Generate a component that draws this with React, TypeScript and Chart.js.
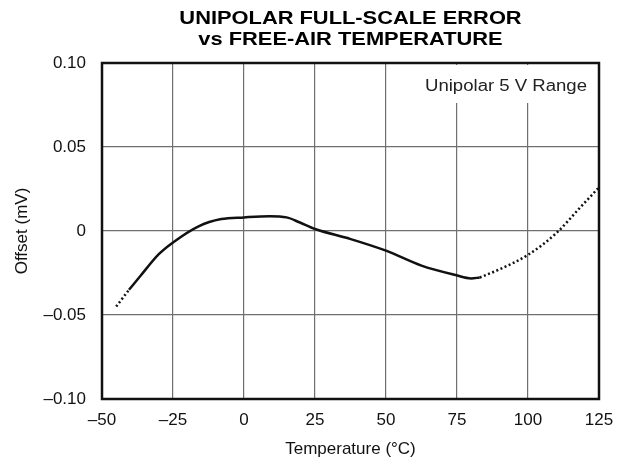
import React, { useEffect, useRef } from "react";
import { Chart, registerables } from "chart.js";

Chart.register(...registerables);

const titleLines = ["UNIPOLAR FULL-SCALE ERROR", "vs FREE-AIR TEMPERATURE"];
const xTitle = "Temperature (°C)";
const yTitle = "Offset (mV)";
const annotationText = "Unipolar 5 V Range";

const xTickValues = [-50, -25, 0, 25, 50, 75, 100, 125];
const xTickLabels = ["–50", "–25", "0", "25", "50", "75", "100", "125"];
const yTickValues = [-0.1, -0.05, 0, 0.05, 0.1];
const yTickLabels = ["–0.10", "–0.05", "0", "0.05", "0.10"];

const solidTemps = [-40.5, -36.5, -30, -25, -16, -8, 0, 9, 15, 19.5, 25, 37, 50, 62.5, 74.5, 80, 83];
const solidOffsets = [-0.035, -0.0268, -0.0138, -0.0068, 0.0028, 0.0071, 0.0081, 0.0088, 0.0081, 0.0052, 0.0012, -0.0045, -0.0117, -0.0206, -0.0262, -0.0282, -0.0277];

const dotLeftTemps = [-45, -40.5];
const dotLeftOffsets = [-0.045, -0.035];

const dotRightTemps = [83, 90, 100, 110, 118, 125];
const dotRightOffsets = [-0.0277, -0.0228, -0.0142, -0.0012, 0.0133, 0.026];

const FONT = "'Liberation Sans', Arial, Helvetica, sans-serif";

function pts(xs: number[], ys: number[]) {
  return xs.map((x, i) => ({ x, y: ys[i] }));
}

function labelFor(values: number[], labels: string[], v: number) {
  const i = values.findIndex((t) => Math.abs(t - v) < 1e-9);
  return i >= 0 ? labels[i] : "";
}

export default function App() {
  const ref = useRef<HTMLCanvasElement | null>(null);
  useEffect(() => {
    if (!ref.current) return;
    const overlay = {
      id: "overlay",
      afterDraw(chart: any) {
        const ctx = chart.ctx;
        const a = chart.chartArea;
        ctx.save();
        // annotation box
        ctx.fillStyle = "#fff";
        ctx.fillRect(a.right - 181, a.top + 2, 175, 38);
        ctx.font = `16px ${FONT}`;
        const sx = 1.16;
        const w = ctx.measureText(annotationText).width * sx;
        ctx.save();
        ctx.translate(a.right - 12 - w, a.top + 24);
        ctx.scale(sx, 1);
        ctx.fillStyle = "#222";
        ctx.textBaseline = "middle";
        ctx.textAlign = "left";
        ctx.fillText(annotationText, 0, 0);
        ctx.restore();
        // frame
        ctx.strokeStyle = "#111";
        ctx.lineWidth = 2.5;
        ctx.strokeRect(a.left, a.top, a.right - a.left, a.bottom - a.top);
        // title
        ctx.fillStyle = "#000";
        ctx.font = `bold 19px ${FONT}`;
        ctx.textAlign = "center";
        ctx.textBaseline = "middle";
        const cx = (a.left + a.right) / 2;
        [19, 40].forEach((y, i) => {
          ctx.save();
          ctx.translate(cx, y);
          ctx.scale(1.15, 1);
          ctx.fillText(titleLines[i], 0, 0);
          ctx.restore();
        });
        ctx.restore();
      },
    };
    const chart = new Chart(ref.current, {
      type: "line",
      data: {
        datasets: [
          {
            data: pts(solidTemps, solidOffsets),
            borderColor: "#111",
            borderWidth: 2.5,
            pointRadius: 0,
            cubicInterpolationMode: "monotone",
            fill: false,
          },
          {
            data: pts(dotLeftTemps, dotLeftOffsets),
            borderColor: "#111",
            borderWidth: 2.5,
            borderDash: [2, 2.5],
            pointRadius: 0,
            fill: false,
          },
          {
            data: pts(dotRightTemps, dotRightOffsets),
            borderColor: "#111",
            borderWidth: 2.5,
            borderDash: [2, 2.5],
            pointRadius: 0,
            cubicInterpolationMode: "monotone",
            fill: false,
          },
        ],
      },
      options: {
        animation: false,
        responsive: false,
        layout: { padding: { top: 63, right: 26, bottom: 0, left: 0 } },
        plugins: { legend: { display: false }, tooltip: { enabled: false }, title: { display: false } },
        scales: {
          x: {
            type: "linear",
            min: -50,
            max: 125,
            afterBuildTicks: (s: any) => {
              s.ticks = xTickValues.map((v) => ({ value: v }));
            },
            afterFit: (s: any) => {
              s.height = 67;
            },
            grid: { color: "#6f6f6f", lineWidth: 1.2, drawTicks: false },
            border: { display: false },
            ticks: {
              padding: 11,
              color: "#111",
              font: { family: FONT, size: 17 },
              callback: (v: any) => labelFor(xTickValues, xTickLabels, Number(v)),
            },
            title: {
              display: true,
              text: xTitle,
              color: "#111",
              font: { family: FONT, size: 17 },
              padding: { top: 0, bottom: 6 },
            },
          },
          y: {
            type: "linear",
            min: -0.1,
            max: 0.1,
            afterBuildTicks: (s: any) => {
              s.ticks = yTickValues.map((v) => ({ value: v }));
            },
            afterFit: (s: any) => {
              s.width = 102;
            },
            grid: { color: "#6f6f6f", lineWidth: 1.2, drawTicks: false },
            border: { display: false },
            ticks: {
              padding: 16,
              color: "#111",
              font: { family: FONT, size: 17 },
              callback: (v: any) => labelFor(yTickValues, yTickLabels, Number(v)),
            },
            title: {
              display: true,
              text: yTitle,
              color: "#111",
              font: { family: FONT, size: 17 },
              padding: { top: 12, bottom: 0 },
            },
          },
        },
      },
      plugins: [overlay],
    } as any);
    return () => chart.destroy();
  }, []);
  return (
    <div style={{ position: "fixed", left: 0, top: 0, width: 625, height: 466, background: "#fff" }}>
      <canvas ref={ref} width={625} height={466} style={{ width: 625, height: 466 }} />
    </div>
  );
}
